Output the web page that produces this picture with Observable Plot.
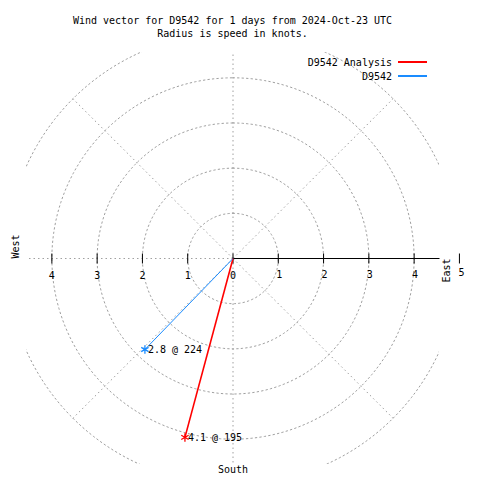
<!DOCTYPE html>
<html>
<head>
<meta charset="utf-8">
<script src="https://cdn.jsdelivr.net/npm/d3@7"></script>
<script src="https://cdn.jsdelivr.net/npm/@observablehq/plot@0.6"></script>
<style>
  html, body { margin: 0; padding: 0; background: #fff; }
  #wrap { position: relative; width: 480px; height: 480px; font-family: "DejaVu Sans Mono", monospace; font-size: 10px; color: #000; }
  #title { box-sizing: border-box; height: 40px; padding-top: 14px; line-height: 13px; text-align: center; width: 465px; white-space: pre; }
  #legend { position: absolute; left: 0; top: 0; width: 480px; height: 90px; pointer-events: none; }
  .lg-text { position: absolute; left: 0; width: 392px; text-align: right; line-height: 13px; white-space: pre; }
  .lg-line { position: absolute; left: 398px; width: 29px; height: 0; border-top-width: 2px; border-top-style: solid; }
</style>
</head>
<body>
<div id="wrap">
  <div id="title"></div>
  <div id="chart"></div>
  <div id="legend"></div>
</div>
<script>
// ---- data ----
const titleLines = ["Wind vector for D9542 for 1 days from 2024-Oct-23 UTC", "Radius is speed in knots."];
const seriesNames = ["D9542 Analysis", "D9542"];
const seriesColors = ["#ff0000", "#1a8cff"];
const speeds = [4.1, 2.8];          // knots
const directions = [195, 224];      // degrees
const ringRadii = [1, 2, 3, 4, 5];
const spokeAngles = [0, 45, 90, 135, 180, 225, 270, 315];
const tickValues = [-4, -3, -2, -1, 0, 1, 2, 3, 4, 5];
const leftLabels = [-4, -3, -2, -1, 0];
const rightLabels = [1, 2, 3, 4];
const outerLabel = [5];
const compassLabels = ["West", "East", "South"];

// ---- layout ----
const W = 480, H = 440;
const mL = 26, mR = 41, mT = 12, mB = 16;
const ext = 4.56;
const pxPerKnot = (W - mL - mR) / (2 * ext);
const tickHalf = 5 / pxPerKnot;
const rad = d => d * Math.PI / 180;

document.getElementById("title").textContent = titleLines.join("\n");

const vectors = seriesNames.map((name, i) => ({
  name, color: seriesColors[i], speed: speeds[i], dir: directions[i],
  x: speeds[i] * Math.sin(rad(directions[i])),
  y: speeds[i] * Math.cos(rad(directions[i]))
}));

const circlePts = ringRadii.flatMap(r => d3.range(0, 361, 2).map(a => ({r, x: r * Math.sin(rad(a)), y: r * Math.cos(rad(a))})));

const grid = {stroke: "#a0a0a0", strokeWidth: 1, strokeDasharray: "1.5,3"};

const marks = [
  Plot.line(circlePts, {x: "x", y: "y", z: "r", ...grid, clip: true}),
  Plot.link(spokeAngles, {x1: () => 0, y1: () => 0, x2: a => 5 * Math.sin(rad(a)), y2: a => 5 * Math.cos(rad(a)), ...grid, clip: true}),
  Plot.link([ext], {x1: () => 0, y1: () => 0, x2: d => d, y2: () => 0, stroke: "#000", strokeWidth: 1}),
  Plot.link(tickValues, {x1: d => d, x2: d => d, y1: () => -tickHalf, y2: () => tickHalf, stroke: "#000", strokeWidth: 1}),
  Plot.text(leftLabels, {x: d => d, y: () => 0, text: d => String(Math.abs(d)), dy: 17, fontSize: 10}),
  Plot.text(rightLabels, {x: d => d, y: () => 0, text: d => String(d), dx: 1, dy: 16, fontSize: 10}),
  Plot.text(outerLabel, {x: d => d, y: () => 0, text: d => String(d), dx: 2, dy: 14, fontSize: 10}),
  Plot.text([compassLabels[0]], {frameAnchor: "left", y: () => 0, text: d => d, dx: -11, rotate: -90, fontSize: 10}),
  Plot.text([compassLabels[1]], {frameAnchor: "right", y: () => 0, text: d => d, dx: 7, rotate: -90, fontSize: 10}),
  Plot.text([compassLabels[2]], {frameAnchor: "bottom", x: () => 0, text: d => d, dy: 8, fontSize: 10}),
];

vectors.forEach((v, i) => {
  marks.push(
    Plot.link([v], {x1: () => 0, y1: () => 0, x2: "x", y2: "y", stroke: v.color, strokeWidth: i === 0 ? 1.6 : 1}),
    Plot.dot([v], {x: "x", y: "y", symbol: "asterisk", r: 4, stroke: v.color, strokeWidth: 1.3}),
    Plot.text([v], {x: "x", y: "y", text: d => `${d.speed.toFixed(1)} @ ${d.dir}`, textAnchor: "start", dx: 3, fontSize: 10})
  );
});

const chart = Plot.plot({
  width: W, height: H,
  marginLeft: mL, marginRight: mR, marginTop: mT, marginBottom: mB,
  x: {domain: [-ext, ext], axis: null},
  y: {domain: [-ext, ext], axis: null},
  style: {fontFamily: "DejaVu Sans Mono, monospace", fontSize: "10px", background: "#fff", overflow: "visible", color: "#000"},
  marks
});
document.getElementById("chart").appendChild(chart);

// legend
const lg = document.getElementById("legend");
seriesNames.forEach((name, i) => {
  const t = document.createElement("div");
  t.className = "lg-text";
  t.style.top = (56 + i * 13.5) + "px";
  t.textContent = name;
  lg.appendChild(t);
  const l = document.createElement("div");
  l.className = "lg-line";
  l.style.top = (61 + i * 13.5) + "px";
  l.style.borderTopColor = seriesColors[i];
  lg.appendChild(l);
});
</script>
</body>
</html>
